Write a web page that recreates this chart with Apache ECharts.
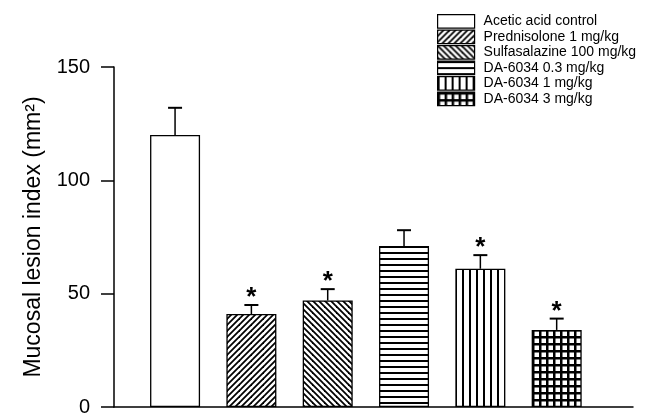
<!DOCTYPE html>
<html>
<head>
<meta charset="utf-8">
<script src="https://cdn.jsdelivr.net/npm/echarts@6/dist/echarts.min.js"></script>
<style>html,body{margin:0;padding:0;background:#fff;}#c{width:656px;height:417px;}</style>
</head>
<body>
<div id="c"></div>
<script>
// ---- data ----
const categories = ['Acetic acid control', 'Prednisolone 1 mg/kg', 'Sulfasalazine 100 mg/kg', 'DA-6034 0.3 mg/kg', 'DA-6034 1 mg/kg', 'DA-6034 3 mg/kg'];
const means = [120, 41, 47, 71, 61, 34];
const errors = [12, 4, 5, 7, 6, 5];
const significant = [0, 1, 1, 0, 1, 1];
const yTicks = [0, 50, 100, 150];
const patterns = ['none', 'fdiag', 'bdiag', 'horiz', 'vert', 'grid'];

function makePattern(type) {
  if (type === 'none') return '#ffffff';
  const c = document.createElement('canvas');
  const ctx = c.getContext('2d');
  if (type === 'fdiag' || type === 'bdiag') {
    c.width = 12; c.height = 12;
    ctx.fillStyle = '#fff'; ctx.fillRect(0, 0, 12, 12);
    ctx.strokeStyle = '#000'; ctx.lineWidth = 1.8;
    for (let k = -24; k <= 36; k += 6) {
      ctx.beginPath();
      if (type === 'fdiag') { ctx.moveTo(k + 24, -24); ctx.lineTo(k - 24, 24); }
      else { ctx.moveTo(k - 24, -24); ctx.lineTo(k + 24, 24); }
      ctx.stroke();
    }
  } else if (type === 'horiz') {
    c.width = 8; c.height = 6;
    ctx.fillStyle = '#fff'; ctx.fillRect(0, 0, 8, 6);
    ctx.fillStyle = '#000'; ctx.fillRect(0, 0, 8, 2);
  } else if (type === 'vert') {
    c.width = 7; c.height = 8;
    ctx.fillStyle = '#fff'; ctx.fillRect(0, 0, 7, 8);
    ctx.fillStyle = '#000'; ctx.fillRect(0, 0, 2, 8);
  } else if (type === 'grid') {
    c.width = 7; c.height = 7;
    ctx.fillStyle = '#fff'; ctx.fillRect(0, 0, 7, 7);
    ctx.fillStyle = '#000'; ctx.fillRect(0, 0, 7, 2.5); ctx.fillRect(0, 0, 2.5, 7);
  }
  return { image: c, repeat: 'repeat' };
}

const chart = echarts.init(document.getElementById('c'), null, { renderer: 'canvas' });
const FONT = 'Liberation Sans, Arial, sans-serif';

const barSeries = categories.map((name, i) => ({
  name: name,
  type: 'bar',
  barWidth: 50,
  barGap: '-100%',
  data: [[i + 1, means[i]]],
  itemStyle: { color: makePattern(patterns[i]), borderColor: '#000', borderWidth: 1.3 },
  emphasis: { disabled: true },
  silent: true,
  z: 2
}));

const errSeries = {
  type: 'custom',
  silent: true,
  z: 5,
  data: categories.map((n, i) => [i + 1, means[i], errors[i], significant[i]]),
  renderItem: function (params, api) {
    const x = api.value(0), m = api.value(1), e = api.value(2), s = api.value(3);
    const p0 = api.coord([x, m]);
    const p1 = api.coord([x, m + e]);
    const children = [
      { type: 'line', shape: { x1: p0[0], y1: p0[1], x2: p1[0], y2: p1[1] }, style: { stroke: '#000', lineWidth: 1.5 } },
      { type: 'line', shape: { x1: p1[0] - 7, y1: p1[1], x2: p1[0] + 7, y2: p1[1] }, style: { stroke: '#000', lineWidth: 2 } }
    ];
    if (s) {
      children.push({
        type: 'text',
        style: { text: '*', x: p1[0], y: p1[1] - 12 + 5, align: 'center', verticalAlign: 'middle', fill: '#000', fontSize: 26, fontWeight: 'bold', fontFamily: FONT }
      });
    }
    return { type: 'group', children: children };
  }
};

chart.setOption({
  animation: false,
  backgroundColor: '#fff',
  grid: { left: 114, right: 23, top: 67, bottom: 7.5 },
  legend: {
    orient: 'vertical',
    left: 437,
    top: 14,
    padding: 0,
    itemWidth: 37,
    itemHeight: 13.5,
    itemGap: 0.8,
    icon: 'rect',
    selectedMode: false,
    itemStyle: { borderColor: '#000', borderWidth: 1.2 },
    textStyle: { fontFamily: FONT, fontSize: 14, color: '#000', padding: [0, 0, 0, 4] },
    data: categories
  },
  xAxis: {
    type: 'value',
    min: 0.2,
    max: 7.0,
    axisLine: { show: true, lineStyle: { color: '#000', width: 1.5 } },
    axisTick: { show: false },
    axisLabel: { show: false },
    splitLine: { show: false }
  },
  yAxis: {
    type: 'value',
    min: 0,
    max: 150,
    interval: 50,
    name: 'Mucosal lesion index (mm²)',
    nameLocation: 'middle',
    nameGap: 69,
    nameTextStyle: { fontFamily: FONT, fontSize: 23, color: '#000' },
    axisLine: { show: true, lineStyle: { color: '#000', width: 1.5 } },
    axisTick: { show: true, inside: false, length: 13, lineStyle: { color: '#000', width: 1.5 } },
    axisLabel: { margin: 24, fontFamily: FONT, fontSize: 20, color: '#000',
      formatter: v => (yTicks.indexOf(v) >= 0 ? String(v) : '') },
    splitLine: { show: false }
  },
  series: barSeries.concat([errSeries])
});
</script>
</body>
</html>
